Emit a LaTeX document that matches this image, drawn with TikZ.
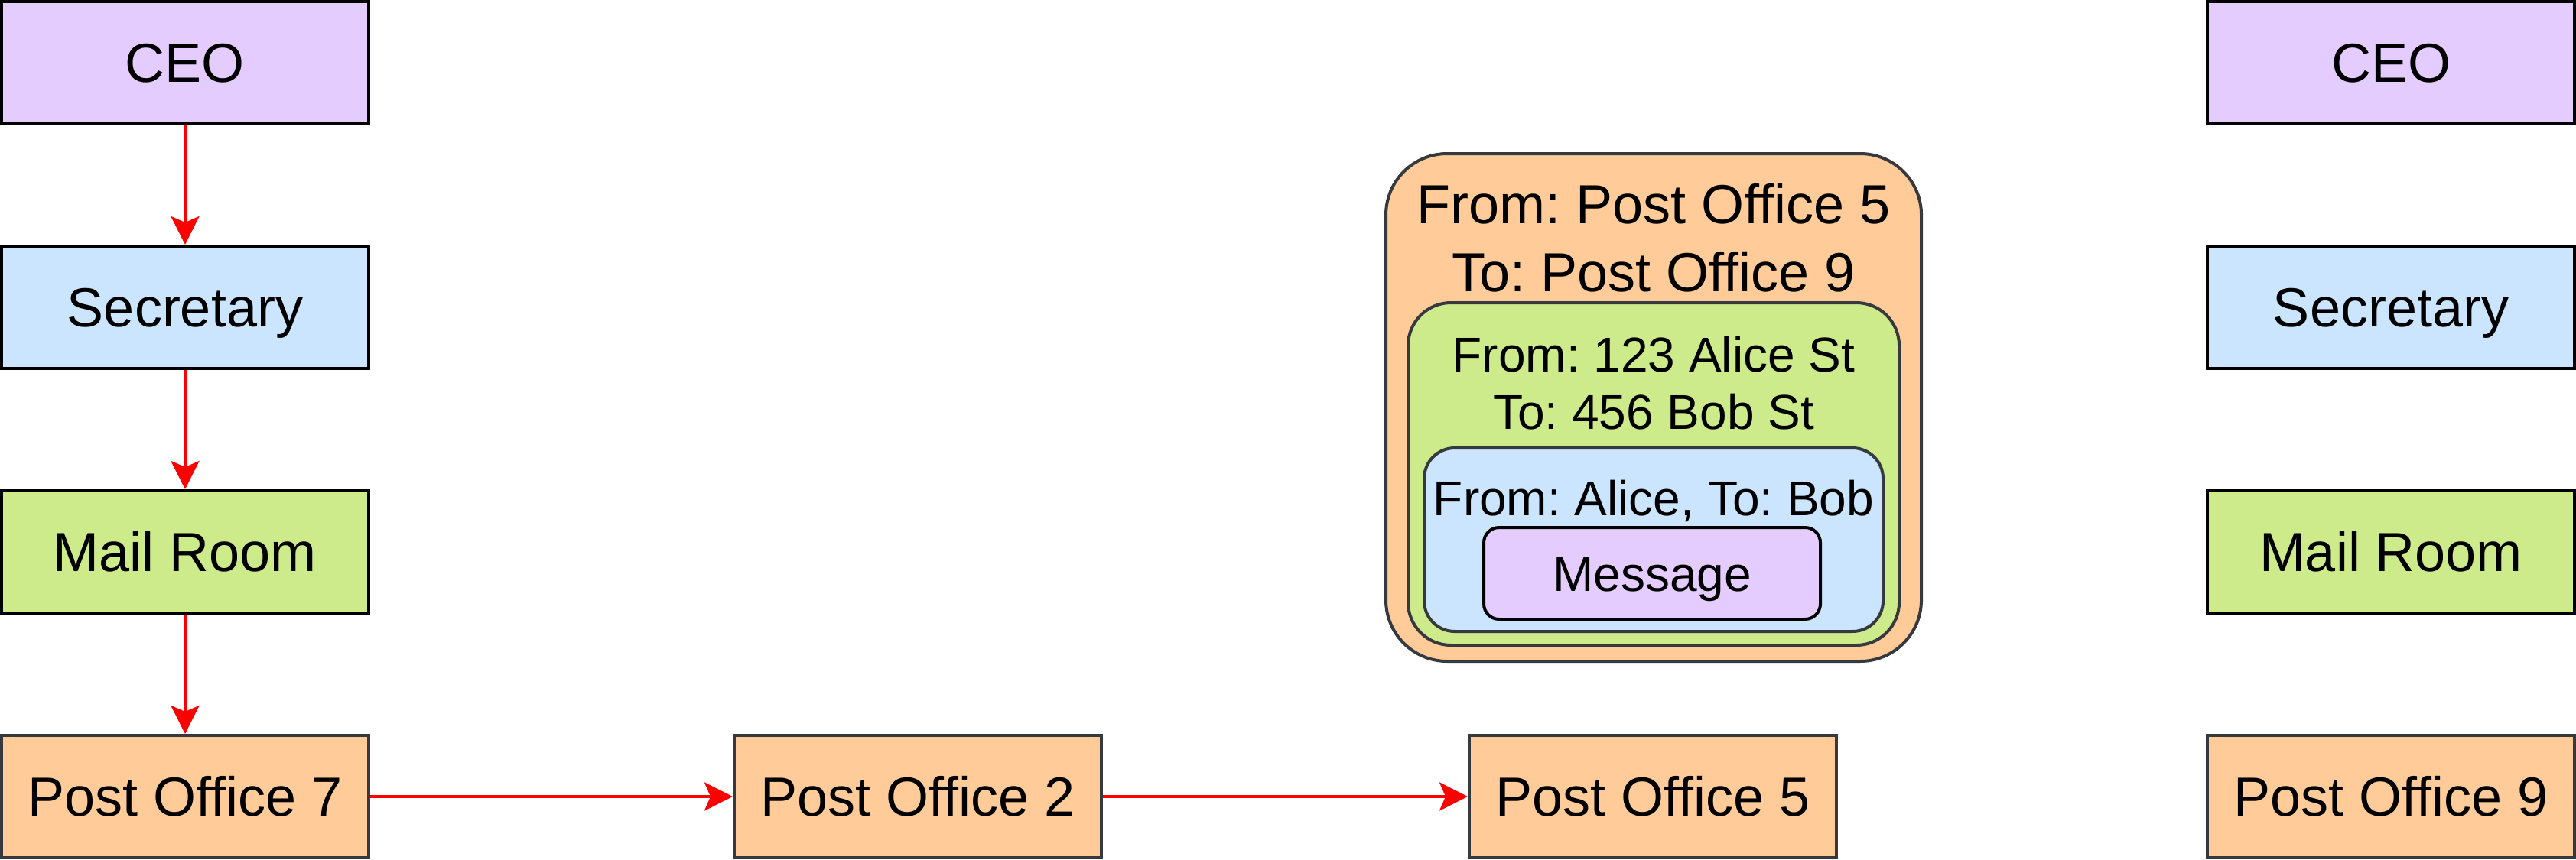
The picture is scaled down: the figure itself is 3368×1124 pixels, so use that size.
\documentclass[tikz,border=0pt]{standalone}
\usepackage{fontspec}
\setmainfont{Liberation Sans}
\usetikzlibrary{arrows.meta}
\definecolor{cpurple}{HTML}{E5CCFF}
\definecolor{cblue}{HTML}{CCE5FF}
\definecolor{cgreen}{HTML}{CDEB8B}
\definecolor{corange}{HTML}{FFCC99}
\definecolor{cgray}{HTML}{36393D}
\frenchspacing
\begin{document}
\begin{tikzpicture}[x=0.25pt,y=-0.25pt,
  box/.style={draw=black, line width=1pt, minimum width=120pt, minimum height=40pt, inner sep=0pt,
    font=\fontsize{18}{21.6}\selectfont, text height=12.9pt, text depth=0pt},
  pobox/.style={box, draw=cgray, fill=corange},
  arr/.style={draw=red, line width=1pt, -{Stealth[length=9.25pt,width=9.25pt,inset=2pt]}},
  env/.style={draw=cgray, line width=1pt, inner sep=0pt},
  lblbig/.style={anchor=base, inner sep=0pt, font=\fontsize{18}{21.6}\selectfont},
  lblsmall/.style={anchor=base, inner sep=0pt, font=\fontsize{16}{19.2}\selectfont}]
\useasboundingbox (0,0) rectangle (3368,1124);
% left column
\node[box, fill=cpurple] (ceo) at (242,82) {CEO};
\node[box, fill=cblue] (sec) at (242,402) {Secretary};
\node[box, fill=cgreen] (mail) at (242,722) {Mail Room};
\node[pobox] (po7) at (242,1042) {Post Office 7};
\node[pobox] (po2) at (1200,1042) {Post Office 2};
\node[pobox] (po5) at (2161,1042) {Post Office 5};
% right column
\node[box, fill=cpurple] (ceo2) at (3126,82) {CEO};
\node[box, fill=cblue] (sec2) at (3126,402) {Secretary};
\node[box, fill=cgreen] (mail2) at (3126,722) {Mail Room};
\node[pobox] (po9) at (3126,1042) {Post Office 9};
% arrows
\draw[arr] (ceo.south) -- (sec.north);
\draw[arr] (sec.south) -- (mail.north);
\draw[arr] (mail.south) -- (po7.north);
\draw[arr] (po7.east) -- (po2.west);
\draw[arr] (po2.east) -- (po5.west);
% nested envelope
\node[env, fill=corange, rounded corners=20pt, minimum width=175pt, minimum height=166pt] (outer) at (2162,533) {};
\node[env, fill=cgreen, rounded corners=14pt, minimum width=160.5pt, minimum height=112pt] (inner1) at (2162,620) {};
\node[env, fill=cblue, rounded corners=10pt, minimum width=150pt, minimum height=60pt] (inner2) at (2162,706) {};
\node[env, draw=black, fill=cpurple, rounded corners=5pt, minimum width=110pt, minimum height=30pt,
  font=\fontsize{16}{19.2}\selectfont, text height=11.5pt, text depth=0pt] (msg) at (2160,750) {Message};
\node[lblbig] (t1) at (2162,292) {From: Post Office 5};
\node[lblbig] (t2) at (2162,381) {To: Post Office 9};
\node[lblsmall] (t3) at (2162,486) {From: 123 Alice St};
\node[lblsmall] (t4) at (2162,561) {To: 456 Bob St};
\node[lblsmall] (t5) at (2162,674) {From: Alice, To: Bob};
\end{tikzpicture}
\end{document}
